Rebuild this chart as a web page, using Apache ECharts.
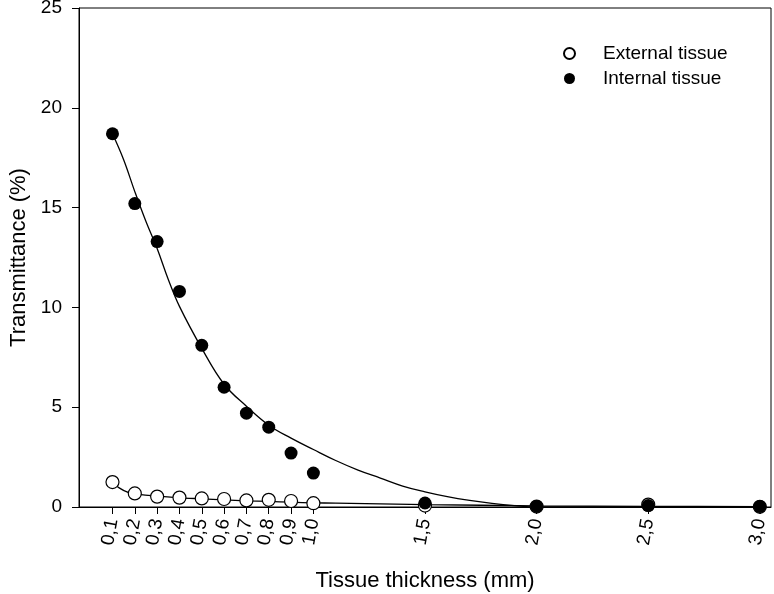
<!DOCTYPE html>
<html>
<head>
<meta charset="utf-8">
<script src="https://cdn.jsdelivr.net/npm/echarts@6/dist/echarts.min.js"></script>
<style>html,body{margin:0;padding:0;background:#fff}#c{width:774px;height:594px}</style>
</head>
<body>
<div id="c"></div>
<script>
// Measured points
var thickness = [0.1, 0.2, 0.3, 0.4, 0.5, 0.6, 0.7, 0.8, 0.9, 1.0, 1.5, 2.0, 2.5, 3.0];
var externalTissue = [1.25, 0.68, 0.52, 0.47, 0.43, 0.40, 0.33, 0.36, 0.30, 0.19, 0.07, 0.02, 0.12, 0.01];
var internalTissue = [18.7, 15.2, 13.3, 10.8, 8.1, 6.0, 4.7, 4.0, 2.7, 1.7, 0.2, 0.03, 0.07, 0.02];

// Fitted curves
var internalFitX = [0.1, 0.15, 0.2, 0.25, 0.3, 0.35, 0.4, 0.5, 0.6, 0.7, 0.8, 0.9, 1.0, 1.1, 1.2, 1.3, 1.4, 1.5, 1.6, 1.7, 1.8, 1.9, 2.0, 2.5, 3.0];
var internalFitY = [18.7, 17.4, 15.8, 14.3, 12.95, 11.4, 10.05, 7.95, 6.15, 5.05, 4.1, 3.45, 2.88, 2.33, 1.85, 1.45, 1.05, 0.76, 0.52, 0.33, 0.18, 0.07, 0.0, 0.0, 0.0];
var externalFitX = [0.1, 0.13, 0.17, 0.2, 0.3, 0.4, 0.5, 0.6, 0.7, 0.8, 0.9, 1.0, 1.1, 1.5, 2.0, 2.5, 3.0];
var externalFitY = [1.24, 0.96, 0.73, 0.66, 0.54, 0.46, 0.41, 0.36, 0.31, 0.28, 0.24, 0.21, 0.19, 0.12, 0.06, 0.03, 0.02];

var xTicks = [0.1, 0.2, 0.3, 0.4, 0.5, 0.6, 0.7, 0.8, 0.9, 1.0, 1.5, 2.0, 2.5, 3.0];
var yTicks = [0, 5, 10, 15, 20, 25];

function zip(xs, ys) { return xs.map(function (x, i) { return [x, ys[i]]; }); }

var FONT = '"Liberation Sans", Arial, sans-serif';
var chart = echarts.init(document.getElementById('c'), null, { renderer: 'canvas' });
chart.setOption({
  animation: false,
  backgroundColor: '#fff',
  grid: { left: 79, top: 8, right: 3, bottom: 87, outerBoundsMode: 'none', containLabel: false,
          show: true, borderColor: '#000', borderWidth: 1, backgroundColor: 'transparent' },
  legend: {
    orient: 'vertical', left: 558, top: 39,
    itemWidth: 57, itemHeight: 11, itemGap: 6,
    textStyle: { fontFamily: FONT, fontSize: 19, color: '#000' },
    data: ['External tissue', 'Internal tissue']
  },
  xAxis: {
    type: 'value', min: -0.05, max: 3.05,
    name: 'Tissue thickness (mm)', nameLocation: 'middle', nameGap: 63,
    nameTextStyle: { fontFamily: FONT, fontSize: 22, color: '#000' },
    axisLine: { show: true, onZero: false, lineStyle: { color: '#000', width: 1 } },
    axisTick: { show: true, length: 7, customValues: xTicks, lineStyle: { color: '#000' } },
    axisLabel: {
      customValues: xTicks, rotate: 80, margin: 12,
      fontFamily: FONT, fontSize: 19, color: '#000',
      formatter: function (v) { return v.toFixed(1).replace('.', ','); }
    },
    splitLine: { show: false }
  },
  yAxis: {
    type: 'value', min: 0, max: 25, interval: 5,
    name: 'Transmittance (%)', nameLocation: 'middle', nameGap: 49,
    nameTextStyle: { fontFamily: FONT, fontSize: 22, color: '#000' },
    axisLine: { show: true, onZero: false, lineStyle: { color: '#000', width: 1 } },
    axisTick: { show: true, length: 7, lineStyle: { color: '#000' } },
    axisLabel: { margin: 17, fontFamily: FONT, fontSize: 19, color: '#000' },
    splitLine: { show: false }
  },
  series: [
    {
      name: 'internalFit', type: 'line', smooth: 0.4, showSymbol: false, silent: true,
      lineStyle: { color: '#000', width: 1.3 }, data: zip(internalFitX, internalFitY), z: 2
    },
    {
      name: 'externalFit', type: 'line', smooth: 0.3, showSymbol: false, silent: true,
      lineStyle: { color: '#000', width: 1.3 }, data: zip(externalFitX, externalFitY), z: 2
    },
    {
      name: 'External tissue', type: 'scatter', symbol: 'circle', symbolSize: 13,
      itemStyle: { color: '#fff', borderColor: '#000', borderWidth: 1.2, opacity: 1 },
      data: zip(thickness, externalTissue), z: 3
    },
    {
      name: 'Internal tissue', type: 'scatter', symbol: 'circle', symbolSize: 13,
      itemStyle: { color: '#000', borderColor: '#000', borderWidth: 0, opacity: 1 },
      data: zip(thickness, internalTissue), z: 4
    }
  ]
});
</script>
</body>
</html>
